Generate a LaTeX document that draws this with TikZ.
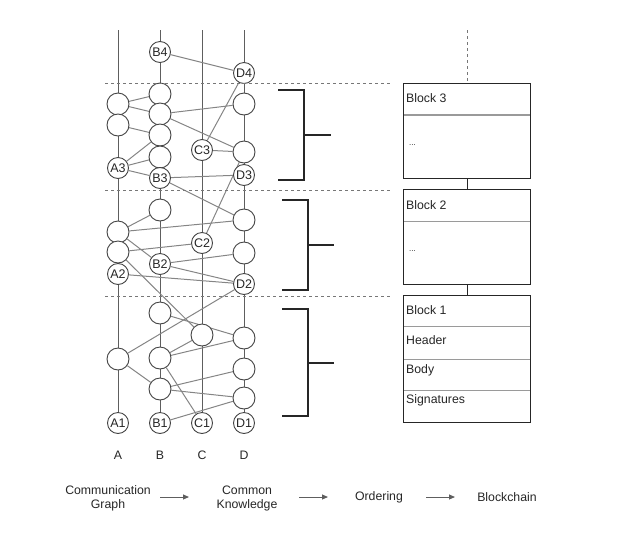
\documentclass[tikz,border=0pt]{standalone}
\usepackage{fontspec}
\setmainfont{Liberation Sans}
\usetikzlibrary{arrows.meta,backgrounds}
\definecolor{vline}{HTML}{5E5E5E}
\definecolor{eline}{HTML}{858585}
\definecolor{cdraw}{HTML}{444444}
\definecolor{txt}{HTML}{262626}
\definecolor{dash}{HTML}{777777}
\definecolor{divc}{HTML}{9A9A9A}
\begin{document}
\begin{tikzpicture}[x=1pt,y=-1pt,
  every node/.style={text=txt},
  ev/.style={circle,draw=cdraw,line width=0.9pt,fill=white,inner sep=0pt,minimum size=22pt},
  lev/.style={circle,draw=cdraw,line width=0.9pt,fill=white,inner sep=0pt,minimum size=21pt,font=\fontsize{12.5}{14}\selectfont},
  vl/.style={draw=vline,line width=1pt},
  ed/.style={draw=eline,line width=1pt},
  sep/.style={draw=dash,line width=0.8pt,dash pattern=on 3pt off 3pt},
  brk/.style={draw=black!85,line width=1.3pt},
  blockbox/.style={draw=black!85,line width=1.3pt,fill=white,minimum width=127pt,inner sep=0pt},
  divl/.style={draw=divc,line width=1.2pt},
  btxt/.style={anchor=west,inner sep=0pt,font=\fontsize{12.3}{14}\selectfont},
  lbl/.style={inner sep=0pt,font=\fontsize{12.3}{14}\selectfont,align=center},
  arr/.style={draw=vline,line width=1pt,-{Triangle[length=6pt,width=5pt]}}
]
\useasboundingbox (0,0) rectangle (640,539);

% column tops
\coordinate (Atop) at (118,30);
\coordinate (Btop) at (160,30);
\coordinate (Ctop) at (202,30);
\coordinate (Dtop) at (244,30);

% band 3
\node[lev] (B4) at (160,52) {B4};
\node[lev] (D4) at (244,73) {D4};
\node[ev] (a3u) at (118,104) {};
\node[ev] (a3l) at (118,125) {};
\node[ev] (b3a) at (160,94) {};
\node[ev] (b3b) at (160,114) {};
\node[ev] (b3c) at (160,135) {};
\node[ev] (b3d) at (160,157) {};
\node[ev] (d3u) at (244,104) {};
\node[ev] (d3l) at (244,152) {};
\node[lev] (C3) at (202,150) {C3};
\node[lev] (A3) at (118,168) {A3};
\node[lev] (B3) at (160,178) {B3};
\node[lev] (D3) at (244,175) {D3};

% band 2
\node[ev] (b2a) at (160,210) {};
\node[ev] (a2u) at (118,232) {};
\node[ev] (a2l) at (118,252) {};
\node[ev] (d2u) at (244,220) {};
\node[ev] (d2l) at (244,253) {};
\node[lev] (C2) at (202,243) {C2};
\node[lev] (B2) at (160,264) {B2};
\node[lev] (A2) at (118,274) {A2};
\node[lev] (D2) at (244,284) {D2};

% band 1
\node[ev] (b1a) at (160,313) {};
\node[ev] (c1a) at (202,335) {};
\node[ev] (d1a) at (244,338) {};
\node[ev] (a1a) at (118,359) {};
\node[ev] (b1b) at (160,358) {};
\node[ev] (d1b) at (244,369) {};
\node[ev] (b1c) at (160,389) {};
\node[ev] (d1c) at (244,398) {};
\node[lev] (A1) at (118,423) {A1};
\node[lev] (B1) at (160,423) {B1};
\node[lev] (C1) at (202,423) {C1};
\node[lev] (D1) at (244,423) {D1};

\begin{pgfonlayer}{background}
% vertical process lines
\draw[vl] (Atop) -- (a3u) -- (a3l) -- (A3) -- (a2u) -- (a2l) -- (A2) -- (a1a) -- (A1);
\draw[vl] (Btop) -- (B4) -- (b3a) -- (b3b) -- (b3c) -- (b3d) -- (B3) -- (b2a) -- (B2) -- (b1a) -- (b1b) -- (b1c) -- (B1);
\draw[vl] (Ctop) -- (C3) -- (C2) -- (c1a) -- (C1);
\draw[vl] (Dtop) -- (D4) -- (d3u) -- (d3l) -- (D3) -- (d2u) -- (d2l) -- (D2) -- (d1a) -- (d1b) -- (d1c) -- (D1);

% message edges
\draw[ed] (B4) -- (D4);
\draw[ed] (a3u) -- (b3a);
\draw[ed] (a3u) -- (b3b);
\draw[ed] (b3b) -- (d3u);
\draw[ed] (b3b) -- (d3l);
\draw[ed] (a3l) -- (b3c);
\draw[ed] (A3) -- (b3c);
\draw[ed] (A3) -- (b3d);
\draw[ed] (A3) -- (B3);
\draw[ed] (B3) -- (D3);
\draw[ed] (C3) -- (d3l);
\draw[ed] (C3) -- (D4);
\draw[ed] (d3l) -- (C2);
\draw[ed] (B3) -- (d2u);
\draw[ed] (a2u) -- (b2a);
\draw[ed] (a2u) -- (d2u);
\draw[ed] (a2u) -- (B2);
\draw[ed] (a2l) -- (C2);
\draw[ed] (a2l) -- (c1a);
\draw[ed] (B2) -- (d2l);
\draw[ed] (B2) -- (D2);
\draw[ed] (A2) -- (D2);
\draw[ed] (D2) -- (a1a);
\draw[ed] (b1a) -- (d1a);
\draw[ed] (b1b) -- (c1a);
\draw[ed] (b1b) -- (d1a);
\draw[ed] (b1b) -- (C1);
\draw[ed] (a1a) -- (b1c);
\draw[ed] (b1c) -- (d1b);
\draw[ed] (b1c) -- (d1c);
\draw[ed] (B1) -- (d1c);
\end{pgfonlayer}

% separators
\draw[sep] (105,83) -- (390,83);
\draw[sep] (105,190) -- (390,190);
\draw[sep] (105,296) -- (390,296);

% brackets
\draw[brk] (278,90) -- (304,90) -- (304,180) -- (278,180);
\draw[brk] (304,135) -- (331,135);
\draw[brk] (282,200) -- (308,200) -- (308,290) -- (282,290);
\draw[brk] (308,245) -- (334,245);
\draw[brk] (282,309) -- (308,309) -- (308,416) -- (282,416);
\draw[brk] (308,363) -- (334,363);

% blocks
\node[blockbox,minimum height=95pt] (blk3) at (467,130.8) {};
\node[blockbox,minimum height=95pt] (blk2) at (467,236.8) {};
\node[blockbox,minimum height=126.6pt] (blk1) at (467,359) {};
\coordinate (chaintop) at (467,30);
\draw[sep] (chaintop) -- (blk3.north);
\draw[draw=black!85,line width=1pt] (blk3.south) -- (blk2.north);
\draw[draw=black!85,line width=1pt] (blk2.south) -- (blk1.north);
\draw[divl] (404,115) -- (530,115);
\draw[divl] (404,221.7) -- (530,221.7);
\draw[divl] (404,326.7) -- (530,326.7);
\draw[divl] (404,359.3) -- (530,359.3);
\draw[divl] (404,390.7) -- (530,390.7);
\node[btxt] (t3) at (406,98.5) {Block 3};
\node[btxt,font=\fontsize{8}{10}\selectfont] (e3) at (409,145) {...};
\node[btxt] (t2) at (406,205) {Block 2};
\node[btxt,font=\fontsize{8}{10}\selectfont] (e2) at (409,251.5) {...};
\node[btxt] (t1) at (406,310.5) {Block 1};
\node[btxt] (th) at (406,340) {Header};
\node[btxt] (tb) at (406,370) {Body};
\node[btxt] (ts) at (406,400) {Signatures};

% column labels
\node[lbl] (lA) at (118,455) {A};
\node[lbl] (lB) at (160,455) {B};
\node[lbl] (lC) at (202,455) {C};
\node[lbl] (lD) at (244,455) {D};

% pipeline
\node[lbl] (cg) at (108,498) {Communication\\Graph};
\node[lbl] (ck) at (247,498) {Common\\Knowledge};
\node[lbl] (ord) at (379,497) {Ordering};
\node[lbl] (bc) at (507,497) {Blockchain};
\coordinate (p1s) at (160,497);
\coordinate (p1e) at (189,497);
\coordinate (p2s) at (299,497);
\coordinate (p2e) at (328,497);
\coordinate (p3s) at (426,497);
\coordinate (p3e) at (455,497);
\draw[arr] (p1s) -- (p1e);
\draw[arr] (p2s) -- (p2e);
\draw[arr] (p3s) -- (p3e);
\end{tikzpicture}
\end{document}
